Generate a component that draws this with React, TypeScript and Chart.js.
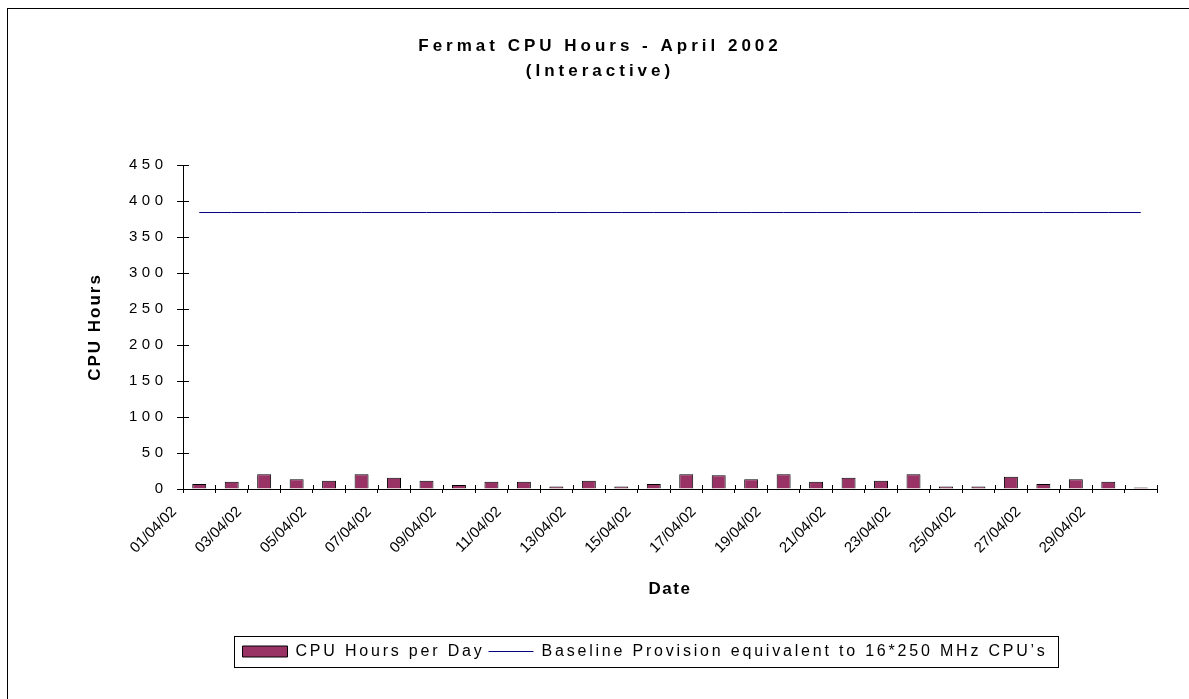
import React, { useEffect, useRef } from 'react';
import { Chart, registerables } from 'chart.js';

Chart.register(...registerables);

// ---------------- data ----------------
const dates = [
  '01/04/02', '02/04/02', '03/04/02', '04/04/02', '05/04/02', '06/04/02',
  '07/04/02', '08/04/02', '09/04/02', '10/04/02', '11/04/02', '12/04/02',
  '13/04/02', '14/04/02', '15/04/02', '16/04/02', '17/04/02', '18/04/02',
  '19/04/02', '20/04/02', '21/04/02', '22/04/02', '23/04/02', '24/04/02',
  '25/04/02', '26/04/02', '27/04/02', '28/04/02', '29/04/02', '30/04/02',
];

const xTickLabels = [
  '01/04/02', '', '03/04/02', '', '05/04/02', '',
  '07/04/02', '', '09/04/02', '', '11/04/02', '',
  '13/04/02', '', '15/04/02', '', '17/04/02', '',
  '19/04/02', '', '21/04/02', '', '23/04/02', '',
  '25/04/02', '', '27/04/02', '', '29/04/02', '',
];

const cpuHoursPerDay = [
  7, 10, 20.5, 13.5, 11.5, 20.5, 15.5, 11.5, 5.5, 10,
  10, 3.5, 11.5, 3.5, 7, 20.5, 19, 13.5, 20.5, 10,
  15.5, 11.5, 20.5, 3.5, 3.5, 17, 7, 13.5, 10, 2,
];

const baselineProvision = [
  384, 384, 384, 384, 384, 384, 384, 384, 384, 384,
  384, 384, 384, 384, 384, 384, 384, 384, 384, 384,
  384, 384, 384, 384, 384, 384, 384, 384, 384, 384,
];

const seriesNames = ['CPU Hours per Day', 'Baseline Provision equivalent to 16*250 MHz CPU\u2019s'];
const titleLines = ['Fermat CPU Hours - April 2002', '(Interactive)'];
const yAxisTitle = 'CPU Hours';
const xAxisTitle = 'Date';
const yMin = 0;
const yMax = 450;
const yStep = 50;

// ---------------- styling ----------------
const FONT = "'Liberation Sans', Arial, Helvetica, sans-serif";
const BAR_COLOR = '#993366';
const LINE_COLOR = '#000080';

function withSpacing(obj: any, key: string, ls: string) {
  if (!obj || obj['__ls_' + key]) return;
  const orig = obj[key];
  if (typeof orig !== 'function') return;
  obj[key] = function (...args: any[]) {
    const ctx = this.ctx;
    ctx.save();
    (ctx as any).letterSpacing = ls;
    try {
      return orig.apply(this, args);
    } finally {
      ctx.restore();
    }
  };
  obj['__ls_' + key] = true;
}

const spacingPlugin = {
  id: 'spacing',
  beforeUpdate(chart: any) {
    withSpacing(chart.legend, 'fit', '2.8px');
    withSpacing(chart.legend, 'draw', '2.8px');
    withSpacing(chart.titleBlock, 'draw', '4px');
  },
  beforeDraw(chart: any) {
    const { x, y } = chart.scales;
    withSpacing(y, 'drawLabels', '4.5px');
    withSpacing(y, 'drawTitle', '2px');
    withSpacing(x, 'drawTitle', '1.5px');
  },
};

const frameBorderPlugin = {
  id: 'frameBorder',
  beforeDraw(chart: any) {
    const ctx = chart.ctx;
    ctx.save();
    ctx.strokeStyle = '#000';
    ctx.lineWidth = 1;
    ctx.strokeRect(7.5, 8.5, chart.width + 10, chart.height + 10);
    ctx.restore();
  },
};

const crossTicksPlugin = {
  id: 'crossTicks',
  afterDatasetsDraw(chart: any) {
    const { x, y } = chart.scales;
    const area = chart.chartArea;
    const ctx = chart.ctx;
    ctx.save();
    ctx.strokeStyle = '#000';
    ctx.lineWidth = 1;
    ctx.beginPath();
    y.ticks.forEach((_t: any, i: number) => {
      const py = Math.round(y.getPixelForTick(i)) + 0.5;
      ctx.moveTo(area.left, py);
      ctx.lineTo(area.left + 6, py);
    });
    for (let i = 0; i <= x.ticks.length; i++) {
      const px = Math.round(x.getPixelForValue(i - 0.5)) + 0.5;
      ctx.moveTo(px, area.bottom - 4);
      ctx.lineTo(px, area.bottom);
    }
    ctx.stroke();
    ctx.restore();
  },
};

const legendFramePlugin = {
  id: 'legendFrame',
  afterLayout(chart: any, _args: any, opts: any) {
    const lg = chart.legend;
    if (!lg) return;
    lg.left += opts.shift;
    lg.right += opts.shift;
  },
  afterDraw(chart: any, _args: any, opts: any) {
    const lg = chart.legend;
    if (!lg || !lg.legendHitBoxes || !lg.legendHitBoxes.length) return;
    const boxes = lg.legendHitBoxes;
    const first = boxes[0];
    const last = boxes[boxes.length - 1];
    const cy = first.top + first.height / 2;
    const left = Math.round(first.left - opts.padLeft) + 0.5;
    const right = Math.round(last.left + last.width + opts.padRight) + 0.5;
    const top = Math.round(cy - opts.halfHeight) + 0.5;
    const bottom = Math.round(cy + opts.halfHeight) + 0.5;
    const ctx = chart.ctx;
    ctx.save();
    ctx.strokeStyle = '#000';
    ctx.lineWidth = 1;
    ctx.strokeRect(left, top, right - left, bottom - top);
    ctx.restore();
  },
};

export default function App() {
  const canvasRef = useRef<HTMLCanvasElement | null>(null);

  useEffect(() => {
    const canvas = canvasRef.current;
    if (!canvas) return;

    const chart = new Chart(canvas, {
      type: 'bar',
      data: {
        labels: dates,
        datasets: [
          {
            type: 'line',
            label: seriesNames[1],
            data: baselineProvision,
            borderColor: LINE_COLOR,
            backgroundColor: LINE_COLOR,
            borderWidth: 1,
            pointRadius: 0,
            pointHoverRadius: 0,
            tension: 0,
            fill: false,
            order: 0,
          } as any,
          {
            type: 'bar',
            label: seriesNames[0],
            data: cpuHoursPerDay,
            backgroundColor: BAR_COLOR,
            borderColor: '#000000',
            borderWidth: 1,
            barPercentage: 0.43,
            categoryPercentage: 1,
            order: 1,
          } as any,
        ],
      },
      options: {
        responsive: false,
        animation: false,
        devicePixelRatio: 1,
        events: [],
        layout: { padding: { left: 43, right: 32, top: 0, bottom: 29.5 } },
        scales: {
          x: {
            type: 'category',
            offset: true,
            grid: {
              display: true,
              drawOnChartArea: false,
              drawTicks: true,
              tickLength: 4,
              color: '#000',
              offset: true,
            },
            border: { display: true, color: '#000', width: 1 },
            ticks: {
              autoSkip: false,
              minRotation: 45,
              maxRotation: 45,
              labelOffset: -25,
              padding: 10,
              color: '#000',
              font: { family: FONT, size: 15 },
              callback: (_v: any, i: number) => xTickLabels[i],
            },
            title: {
              display: true,
              text: xAxisTitle,
              color: '#000',
              font: { family: FONT, size: 17, weight: 'bold' },
              padding: { top: 0, bottom: 40 },
            },
            afterFit: (scale: any) => {
              scale.height = 150.5;
            },
          },
          y: {
            min: yMin,
            max: yMax,
            grid: {
              display: true,
              drawOnChartArea: false,
              drawTicks: true,
              tickLength: 6,
              color: '#000',
            },
            border: { display: true, color: '#000', width: 1 },
            ticks: {
              stepSize: yStep,
              padding: 9.5,
              color: '#000',
              font: { family: FONT, size: 15 },
            },
            title: {
              display: true,
              text: yAxisTitle,
              color: '#000',
              font: { family: FONT, size: 17, weight: 'bold' },
              padding: { top: 42, bottom: 0 },
            },
            afterFit: (scale: any) => {
              scale.width = 140;
            },
          },
        },
        plugins: {
          title: {
            display: true,
            text: titleLines,
            color: '#000',
            font: { family: FONT, size: 17, weight: 'bold', lineHeight: '25px' },
            padding: { top: 33.5, bottom: 81.5 },
          },
          legend: {
            display: true,
            position: 'bottom',
            align: 'center',
            reverse: false,
            labels: {
              color: '#000',
              font: { family: FONT, size: 16 },
              usePointStyle: true,
              pointStyleWidth: 45,
              boxWidth: 45,
              boxHeight: 11,
              padding: 4,
              sort: (a: any, b: any) => b.datasetIndex - a.datasetIndex,
              generateLabels: (ch: any) => {
                const items = (Chart as any).defaults.plugins.legend.labels.generateLabels(ch);
                return items.map((it: any) => ({
                  ...it,
                  pointStyle: it.datasetIndex === 1 ? 'rect' : 'line',
                  lineWidth: 1,
                  strokeStyle: it.datasetIndex === 1 ? '#000000' : LINE_COLOR,
                }));
              },
            },
          },
          tooltip: { enabled: false },
          legendFrame: { shift: 45, padLeft: 9, padRight: 11, halfHeight: 15.5 },
        } as any,
      },
      plugins: [spacingPlugin, frameBorderPlugin, crossTicksPlugin, legendFramePlugin],
    });

    return () => {
      chart.destroy();
    };
  }, []);

  return (
    <div style={{ position: 'fixed', left: 0, top: 0, width: 1189, height: 699, background: '#fff' }}>
      <canvas ref={canvasRef} width={1189} height={699} style={{ display: 'block', width: 1189, height: 699 }} />
    </div>
  );
}
